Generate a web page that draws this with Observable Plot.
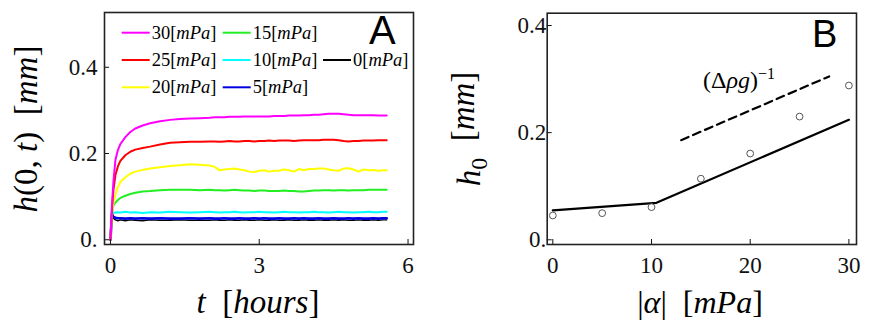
<!DOCTYPE html>
<html><head><meta charset="utf-8">
<script src="https://cdn.jsdelivr.net/npm/d3@7"></script>
<script src="https://cdn.jsdelivr.net/npm/@observablehq/plot@0.6"></script>
<style>
body{margin:0;background:#fff;}
#wrap{position:relative;width:872px;height:332px;overflow:hidden;}
#a,#b{position:absolute;top:0;}
#a{left:0;} #b{left:436px;}
svg text{white-space:pre;}
</style></head><body><div id="wrap"><div id="a"></div><div id="b"></div></div>
<script>
// ---------- Panel A data: h(0,t) vs t [hours] ----------
const times = [0,0.03,0.06,0.1,0.15,0.2,0.3,0.4,0.5,0.65,0.8,1.0,1.2,1.4,1.6,1.8,
  2.0,2.1,2.2,2.3,2.4,2.5,2.6,2.7,2.8,2.9,
  3.0,3.1,3.2,3.3,3.4,3.5,3.6,3.7,3.8,3.9,
  4.0,4.1,4.2,4.3,4.4,4.5,4.6,4.7,4.8,4.9,
  5.0,5.1,5.2,5.3,5.4,5.5,5.57];
const h30 = [0,0.08,0.135,0.185,0.208,0.222,0.238,0.250,0.258,0.265,0.270,0.275,0.278,0.280,0.281,0.282,
  0.283,0.284,0.284,0.284,0.285,0.285,0.285,0.286,0.286,0.286,
  0.286,0.286,0.286,0.287,0.287,0.287,0.288,0.288,0.288,0.289,
  0.289,0.290,0.290,0.291,0.292,0.292,0.292,0.291,0.290,0.289,
  0.289,0.289,0.289,0.289,0.288,0.288,0.288];
const h25 = [0,0.07,0.115,0.150,0.170,0.183,0.196,0.204,0.209,0.213,0.216,0.221,0.225,0.226,0.227,0.227,
  0.228,0.228,0.227,0.228,0.229,0.228,0.228,0.229,0.229,0.228,
  0.229,0.229,0.230,0.229,0.230,0.230,0.230,0.229,0.230,0.231,
  0.231,0.231,0.231,0.232,0.232,0.232,0.231,0.229,0.228,0.229,
  0.229,0.230,0.230,0.230,0.231,0.231,0.231];
const h20 = [0,0.06,0.085,0.105,0.122,0.134,0.145,0.153,0.158,0.162,0.165,0.168,0.171,0.173,0.175,0.174,
  0.172,0.169,0.161,0.163,0.164,0.165,0.163,0.161,0.158,0.157,
  0.160,0.161,0.158,0.160,0.160,0.163,0.161,0.158,0.164,0.161,
  0.164,0.164,0.165,0.165,0.163,0.161,0.160,0.165,0.166,0.163,
  0.158,0.163,0.161,0.162,0.160,0.161,0.161];
const h15 = [0,0.06,0.080,0.086,0.092,0.097,0.102,0.106,0.109,0.112,0.113,0.115,0.116,0.116,0.116,0.115,
  0.116,0.115,0.115,0.114,0.115,0.116,0.115,0.114,0.114,0.113,
  0.114,0.114,0.113,0.113,0.113,0.114,0.113,0.113,0.112,0.112,
  0.113,0.114,0.114,0.115,0.115,0.114,0.115,0.115,0.114,0.115,
  0.115,0.115,0.116,0.116,0.116,0.116,0.116];
const h10 = [0,0.066,0.062,0.063,0.064,0.063,0.065,0.063,0.064,0.062,0.064,0.063,0.065,0.064,0.063,0.064,
  0.065,0.064,0.063,0.064,0.064,0.065,0.064,0.063,0.064,0.064,
  0.065,0.064,0.064,0.063,0.064,0.065,0.064,0.064,0.063,0.064,
  0.064,0.065,0.064,0.064,0.063,0.064,0.065,0.064,0.064,0.063,
  0.064,0.064,0.065,0.064,0.064,0.065,0.065];
const h5 = [0,0.058,0.053,0.051,0.050,0.050,0.049,0.050,0.049,0.050,0.049,0.050,0.049,0.049,0.050,0.049,
  0.050,0.049,0.049,0.050,0.049,0.049,0.050,0.049,0.049,0.050,
  0.049,0.050,0.049,0.049,0.050,0.049,0.049,0.050,0.049,0.050,
  0.049,0.049,0.050,0.049,0.049,0.050,0.049,0.049,0.050,0.049,
  0.050,0.049,0.049,0.050,0.049,0.050,0.050];
const h0 = [0,0.065,0.050,0.046,0.044,0.046,0.044,0.046,0.045,0.044,0.046,0.045,0.045,0.046,0.045,0.045,
  0.045,0.046,0.045,0.045,0.046,0.045,0.045,0.046,0.045,0.045,
  0.046,0.045,0.045,0.046,0.045,0.045,0.046,0.045,0.045,0.046,
  0.045,0.045,0.046,0.045,0.045,0.046,0.045,0.046,0.045,0.045,
  0.046,0.045,0.045,0.046,0.045,0.046,0.046];
const seriesLabels = ["0","5","10","15","20","25","30"];
const seriesValues = [h0,h5,h10,h15,h20,h25,h30];
const seriesColors = ["#000000","#0000e0","#00ffff","#22ee22","#ffff00","#ff0000","#ff00ff"];
const seriesWidths = [1.4,2.6,2,2,2,2,2];
// legend layout: three rows, column-major; "0" sits in the middle row of the third column
const legendOrder = ["30","25","20","15","10","5","0"];
const legendCol = [0,0,0,1,1,1,2];
const legendRow = [0,1,2,0,1,2,1];
const ticksAx = [0,3,6];
const ticksAy = [0,0.2,0.4];

// ---------- Panel B data: h0 vs |alpha| [mPa] ----------
const alphaPts = [0,5,10,15,20,25,30];
const h0Pts = [0.0454,0.0497,0.061,0.114,0.161,0.230,0.288];
const fitAlpha = [0,10.5,30];
const fitH = [0.055,0.069,0.224];
const gravAlpha = [13,28];
const gravH = [0.186,0.305];
const ticksBx = [0,10,20,30];
const ticksBy = [0,0.2,0.4];

const serif = "Liberation Serif";
const sans = "Liberation Sans";
const fmtY = d => d === 0 ? "0." : d3.format(".1f")(d);
const axText = {fontFamily: serif, fontSize: 23, color: "#111", label: null, tickSize: -5};

// ---------- Panel A ----------
const rowsA = [];
seriesLabels.forEach((k, s) => times.forEach((t, i) => rowsA.push({t, h: seriesValues[s][i], k})));
const plotA = Plot.plot({
  width: 436, height: 332,
  marginLeft: 104, marginRight: 23, marginTop: 12, marginBottom: 88,
  x: {domain: [-0.12, 6.11]},
  y: {domain: [-0.011, 0.527]},
  style: {fontFamily: serif, background: "transparent", color: "#000"},
  marks: [
    ...seriesLabels.map((k, s) => Plot.line(rowsA.filter(d => d.k === k), {x: "t", y: "h", stroke: seriesColors[s], strokeWidth: seriesWidths[s]})),
    Plot.axisX(ticksAx, {...axText, tickPadding: 17}),
    Plot.axisY(ticksAy, {...axText, tickPadding: 12, tickFormat: fmtY}),
    Plot.frame({stroke: "#222", strokeWidth: 1.6})
  ]
});
document.getElementById("a").append(plotA);

// ---------- Panel B ----------
const ptsB = alphaPts.map((a, i) => ({a, h: h0Pts[i]}));
const fitB = fitAlpha.map((a, i) => ({a, h: fitH[i]}));
const gravB = gravAlpha.map((a, i) => ({a, h: gravH[i]}));
const plotB = Plot.plot({
  width: 436, height: 332,
  marginLeft: 110.7, marginRight: 16, marginTop: 12.7, marginBottom: 88,
  x: {domain: [-0.57, 30.77]},
  y: {domain: [-0.0088, 0.423]},
  style: {fontFamily: serif, background: "transparent", color: "#000"},
  marks: [
    Plot.line(fitB, {x: "a", y: "h", stroke: "#000", strokeWidth: 2.2}),
    Plot.line(gravB, {x: "a", y: "h", stroke: "#000", strokeWidth: 2.2, strokeDasharray: "8,5"}),
    Plot.dot(ptsB, {x: "a", y: "h", r: 3.4, stroke: "#555", strokeWidth: 1, fill: "white"}),
    Plot.axisX(ticksBx, {...axText, tickPadding: 17}),
    Plot.axisY(ticksBy, {...axText, tickPadding: 6, tickFormat: fmtY}),
    Plot.frame({stroke: "#222", strokeWidth: 1.6})
  ]
});
document.getElementById("b").append(plotB);

// ---------- Text overlays ----------
function rich(sel, parts) {
  parts.forEach(p => {
    const ts = sel.append("tspan").text(p.t);
    if (p.i) ts.attr("font-style", "italic");
    if (p.dy) ts.attr("dy", p.dy);
    if (p.fs) ts.attr("font-size", p.fs);
  });
}
const sA = d3.select(plotA);
const sB = d3.select(plotB);

// Panel A titles
rich(sA.append("text").attr("transform", "translate(37,129) rotate(-90)").attr("text-anchor", "middle")
  .style("font-family", serif).attr("font-size", 33).attr("fill", "#000"),
  [{t: "h", i: 1}, {t: "(0, "}, {t: "t", i: 1}, {t: ")  ["}, {t: "mm", i: 1}, {t: "]"}]);
rich(sA.append("text").attr("x", 258).attr("y", 313).attr("text-anchor", "middle")
  .style("font-family", serif).attr("font-size", 33).attr("fill", "#000"),
  [{t: "t", i: 1}, {t: "  ["}, {t: "hours", i: 1}, {t: "]"}]);
sA.append("text").attr("x", 369).attr("y", 44).attr("text-anchor", "start").style("font-family", sans).attr("font-size", 40).attr("fill", "#000").text("A");

// Panel A legend
const legRowsY = [32.7, 60, 87.3];
const legColX = [121.7, 222.7, 323];
legendOrder.forEach((k, j) => {
  const s = seriesLabels.indexOf(k);
  const x0 = legColX[legendCol[j]], y0 = legRowsY[legendRow[j]];
  sA.append("line").attr("x1", x0).attr("x2", x0 + 28).attr("y1", y0).attr("y2", y0)
    .attr("stroke", seriesColors[s]).attr("stroke-width", 2);
  rich(sA.append("text").attr("x", x0 + 30).attr("y", y0 + 6).attr("text-anchor", "start").style("font-family", serif)
    .attr("font-size", 18.5).attr("fill", "#000"),
    [{t: k + "["}, {t: "mPa", i: 1}, {t: "]"}]);
});

// Panel B titles
rich(sB.append("text").attr("transform", "translate(44,129) rotate(-90)").attr("text-anchor", "middle")
  .style("font-family", serif).attr("font-size", 33).attr("fill", "#000"),
  [{t: "h", i: 1}, {t: "0", dy: "0.3em", fs: 24}, {t: "  [", dy: "-0.4em"}, {t: "mm", i: 1}, {t: "]"}]);
rich(sB.append("text").attr("x", 264).attr("y", 313).attr("text-anchor", "middle")
  .style("font-family", serif).attr("font-size", 32).attr("fill", "#000"),
  [{t: "|"}, {t: "α", i: 1}, {t: "|  ["}, {t: "mPa", i: 1}, {t: "]"}]);
sB.append("text").attr("x", 376).attr("y", 46.5).attr("text-anchor", "start").style("font-family", sans).attr("font-size", 38).attr("fill", "#000").text("B");
rich(sB.append("text").attr("x", 267).attr("y", 88).attr("text-anchor", "start").style("font-family", serif)
  .attr("font-size", 24).attr("fill", "#000"),
  [{t: "(Δ"}, {t: "ρg", i: 1}, {t: ")"}, {t: "−1", dy: "-0.55em", fs: 16}]);
</script>
</body></html>
